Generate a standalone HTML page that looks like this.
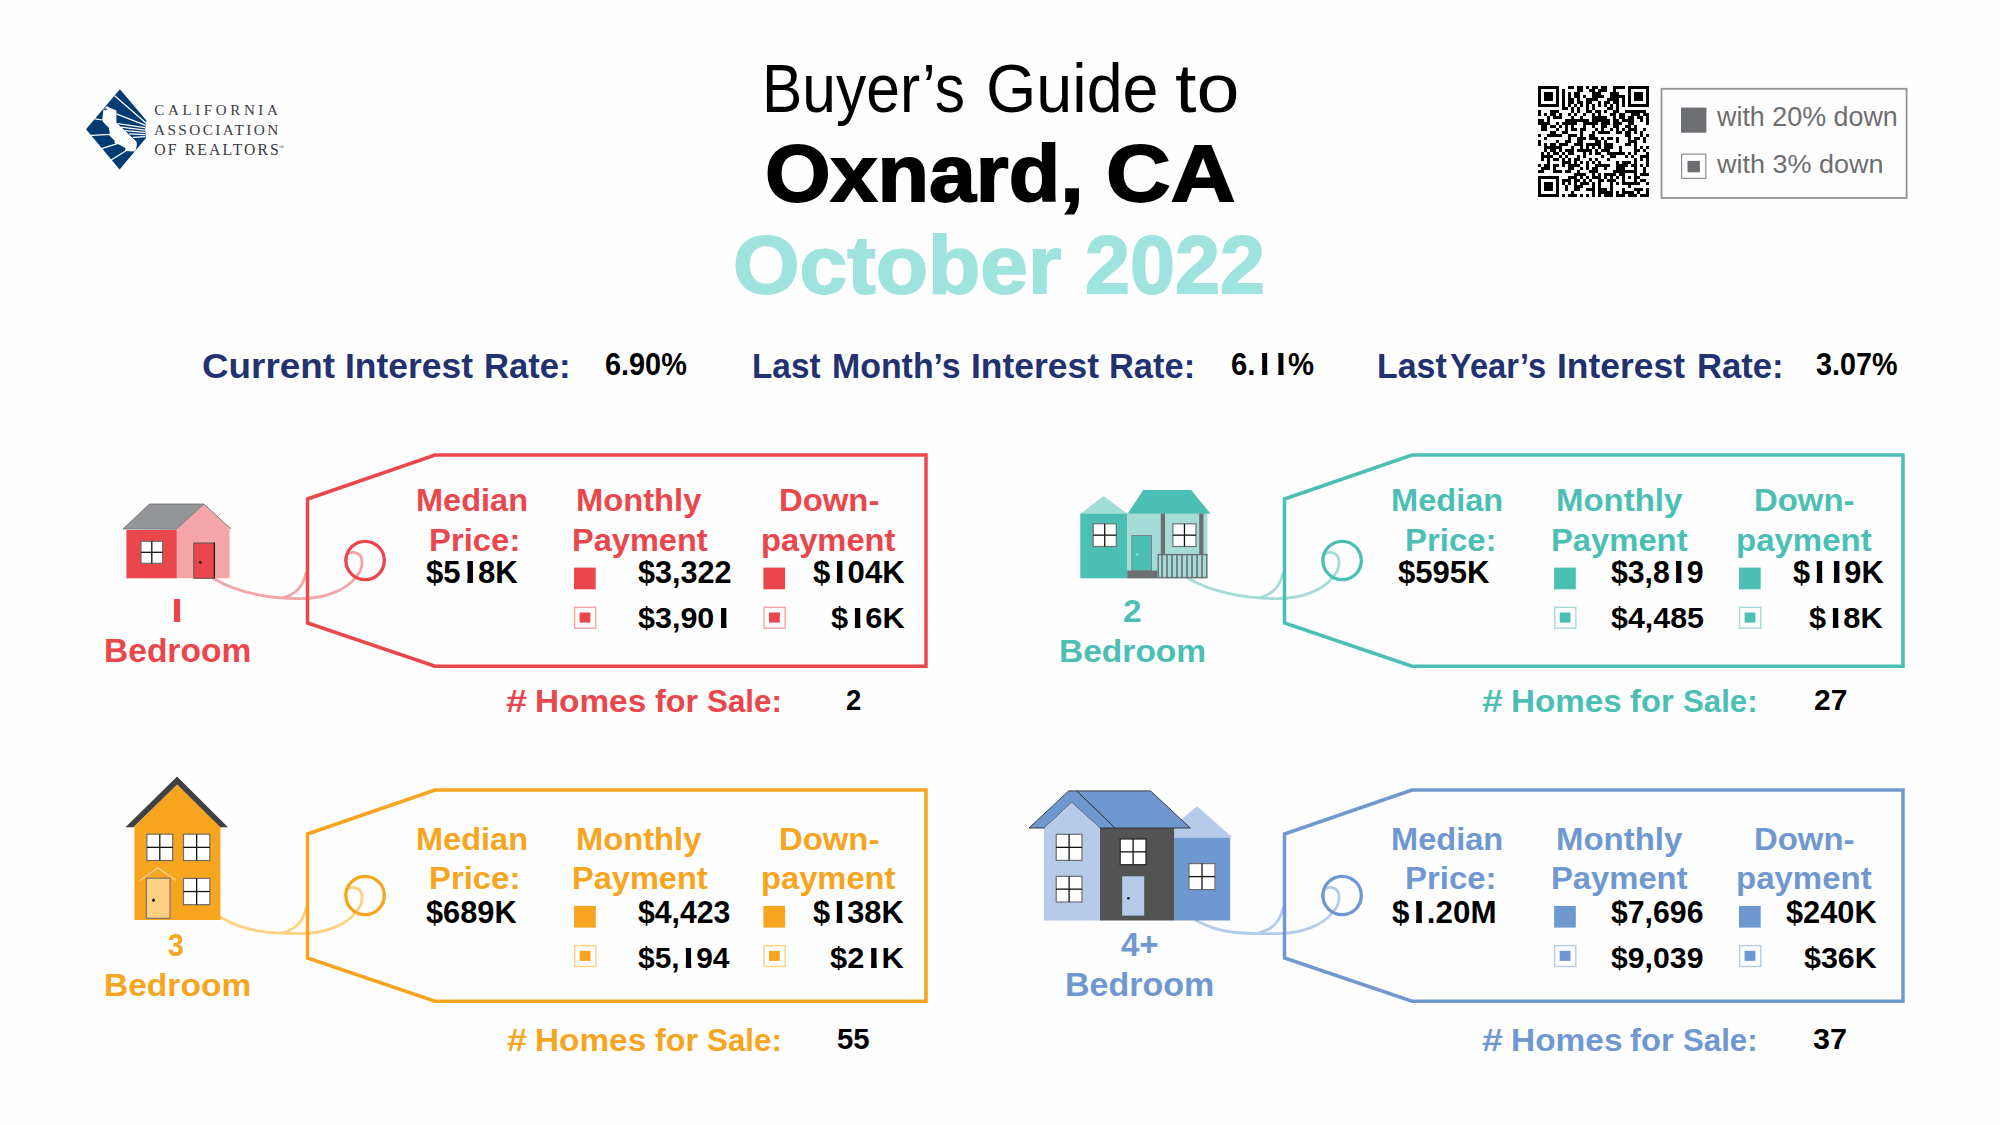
<!DOCTYPE html>
<html><head><meta charset="utf-8"><title>Buyer's Guide to Oxnard, CA - October 2022</title>
<style>
html,body{margin:0;padding:0;background:#fefefe;}
body{width:2000px;height:1125px;position:relative;overflow:hidden;font-family:"Liberation Sans",sans-serif;}
.t{position:absolute;white-space:nowrap;line-height:1;transform-origin:0 0;}
.one{display:inline-block;clip-path:inset(-0.2em 0.186em -0.2em 0.235em);transform:scaleX(1.35);transform-origin:0.3025em 50%;}
svg.bg{position:absolute;left:0;top:0;}
</style></head><body>

<svg class="bg" width="2000" height="1125" viewBox="0 0 2000 1125">
<path d="M119.9,89.2 L146.4,120.6 Q144.2,129.4 146.0,138.0 L119.6,169.6 L86.0,129.2 Z" fill="#003b71"/><polygon points="106.6,106.2 116.4,110.4 116.4,122.4 118.2,124.6 120.2,126.2 128.6,134.2 136.4,141.5 136.9,144.6 136,149.4 134.3,151.4 125.3,151 124.9,150.1 125.7,148.3 118.4,144.2 114.7,143.2 114.7,140.7 109.4,135.6 109.8,133 108.7,127.4 105.9,125.1 102.8,121.6 102.4,118.4 103.4,109.6 104.8,108.2" fill="#fefefe"/><line x1="114.6" y1="95.8" x2="146.2" y2="123.3" stroke="#fefefe" stroke-width="1.25" stroke-linecap="butt"/><line x1="116.4" y1="113.8" x2="145" y2="125.2" stroke="#fefefe" stroke-width="1.25" stroke-linecap="butt"/><line x1="117.6" y1="123.6" x2="145" y2="127.6" stroke="#fefefe" stroke-width="1.25" stroke-linecap="butt"/><line x1="121" y1="127.2" x2="145" y2="130.2" stroke="#fefefe" stroke-width="1.25" stroke-linecap="butt"/><line x1="125" y1="130.6" x2="145" y2="132.4" stroke="#fefefe" stroke-width="1.25" stroke-linecap="butt"/><line x1="129" y1="133.9" x2="145" y2="134.6" stroke="#fefefe" stroke-width="1.25" stroke-linecap="butt"/><line x1="133" y1="137.4" x2="145.4" y2="136.6" stroke="#fefefe" stroke-width="1.25" stroke-linecap="butt"/><line x1="94.6" y1="118.9" x2="103" y2="120" stroke="#fefefe" stroke-width="1.25" stroke-linecap="butt"/><line x1="87.6" y1="135.6" x2="110.2" y2="134.3" stroke="#fefefe" stroke-width="1.25" stroke-linecap="butt"/><line x1="100.6" y1="148.9" x2="117.5" y2="143.6" stroke="#fefefe" stroke-width="1.25" stroke-linecap="butt"/><line x1="110.8" y1="160.3" x2="126.4" y2="150.5" stroke="#fefefe" stroke-width="1.25" stroke-linecap="butt"/><ellipse cx="105.5" cy="109.2" rx="2.0" ry="0.7" fill="#003b71"/>
<path d="M1538.1,86.1h20.98v3h-20.98zM1568.07,86.1h5.99v3h-5.99zM1577.06,86.1h5.99v3h-5.99zM1586.05,86.1h3v3h-3zM1592.05,86.1h5.99v3h-5.99zM1601.04,86.1h5.99v3h-5.99zM1613.02,86.1h11.99v3h-11.99zM1628.01,86.1h20.98v3h-20.98zM1538.1,89.1h3v3h-3zM1556.08,89.1h3v3h-3zM1562.08,89.1h3v3h-3zM1577.06,89.1h5.99v3h-5.99zM1589.05,89.1h5.99v3h-5.99zM1598.04,89.1h8.99v3h-8.99zM1613.02,89.1h3v3h-3zM1628.01,89.1h3v3h-3zM1645.99,89.1h3v3h-3zM1538.1,92.09h3v3h-3zM1544.09,92.09h8.99v3h-8.99zM1556.08,92.09h3v3h-3zM1562.08,92.09h3v3h-3zM1568.07,92.09h3v3h-3zM1574.06,92.09h5.99v3h-5.99zM1592.05,92.09h8.99v3h-8.99zM1610.03,92.09h8.99v3h-8.99zM1628.01,92.09h3v3h-3zM1634,92.09h8.99v3h-8.99zM1645.99,92.09h3v3h-3zM1538.1,95.09h3v3h-3zM1544.09,95.09h8.99v3h-8.99zM1556.08,95.09h3v3h-3zM1562.08,95.09h3v3h-3zM1568.07,95.09h3v3h-3zM1574.06,95.09h5.99v3h-5.99zM1583.05,95.09h3v3h-3zM1592.05,95.09h11.99v3h-11.99zM1610.03,95.09h14.98v3h-14.98zM1628.01,95.09h3v3h-3zM1634,95.09h8.99v3h-8.99zM1645.99,95.09h3v3h-3zM1538.1,98.09h3v3h-3zM1544.09,98.09h8.99v3h-8.99zM1556.08,98.09h3v3h-3zM1562.08,98.09h3v3h-3zM1568.07,98.09h5.99v3h-5.99zM1577.06,98.09h3v3h-3zM1586.05,98.09h11.99v3h-11.99zM1607.03,98.09h11.99v3h-11.99zM1622.02,98.09h3v3h-3zM1628.01,98.09h3v3h-3zM1634,98.09h8.99v3h-8.99zM1645.99,98.09h3v3h-3zM1538.1,101.08h3v3h-3zM1556.08,101.08h3v3h-3zM1562.08,101.08h3v3h-3zM1568.07,101.08h5.99v3h-5.99zM1577.06,101.08h5.99v3h-5.99zM1586.05,101.08h5.99v3h-5.99zM1598.04,101.08h3v3h-3zM1604.03,101.08h5.99v3h-5.99zM1613.02,101.08h5.99v3h-5.99zM1622.02,101.08h3v3h-3zM1628.01,101.08h3v3h-3zM1645.99,101.08h3v3h-3zM1538.1,104.08h20.98v3h-20.98zM1562.08,104.08h3v3h-3zM1568.07,104.08h3v3h-3zM1574.06,104.08h3v3h-3zM1580.06,104.08h3v3h-3zM1586.05,104.08h3v3h-3zM1592.05,104.08h3v3h-3zM1598.04,104.08h3v3h-3zM1604.03,104.08h3v3h-3zM1610.03,104.08h3v3h-3zM1616.02,104.08h3v3h-3zM1622.02,104.08h3v3h-3zM1628.01,104.08h20.98v3h-20.98zM1562.08,107.08h5.99v3h-5.99zM1571.07,107.08h3v3h-3zM1577.06,107.08h3v3h-3zM1586.05,107.08h3v3h-3zM1592.05,107.08h3v3h-3zM1607.03,107.08h5.99v3h-5.99zM1616.02,107.08h3v3h-3zM1538.1,110.08h3v3h-3zM1550.09,110.08h8.99v3h-8.99zM1571.07,110.08h3v3h-3zM1577.06,110.08h3v3h-3zM1586.05,110.08h5.99v3h-5.99zM1595.04,110.08h5.99v3h-5.99zM1604.03,110.08h3v3h-3zM1613.02,110.08h5.99v3h-5.99zM1625.01,110.08h20.98v3h-20.98zM1538.1,113.07h3v3h-3zM1544.09,113.07h3v3h-3zM1550.09,113.07h5.99v3h-5.99zM1559.08,113.07h3v3h-3zM1568.07,113.07h3v3h-3zM1574.06,113.07h3v3h-3zM1583.05,113.07h3v3h-3zM1592.05,113.07h3v3h-3zM1598.04,113.07h3v3h-3zM1610.03,113.07h5.99v3h-5.99zM1619.02,113.07h5.99v3h-5.99zM1631.01,113.07h8.99v3h-8.99zM1642.99,113.07h5.99v3h-5.99zM1547.09,116.07h3v3h-3zM1553.08,116.07h8.99v3h-8.99zM1571.07,116.07h3v3h-3zM1580.06,116.07h3v3h-3zM1592.05,116.07h14.98v3h-14.98zM1613.02,116.07h3v3h-3zM1619.02,116.07h5.99v3h-5.99zM1628.01,116.07h5.99v3h-5.99zM1637,116.07h5.99v3h-5.99zM1645.99,116.07h3v3h-3zM1538.1,119.07h5.99v3h-5.99zM1547.09,119.07h3v3h-3zM1565.07,119.07h23.98v3h-23.98zM1592.05,119.07h17.98v3h-17.98zM1613.02,119.07h5.99v3h-5.99zM1622.02,119.07h11.99v3h-11.99zM1640,119.07h3v3h-3zM1645.99,119.07h3v3h-3zM1538.1,122.06h11.99v3h-11.99zM1556.08,122.06h3v3h-3zM1562.08,122.06h14.98v3h-14.98zM1583.05,122.06h14.98v3h-14.98zM1601.04,122.06h8.99v3h-8.99zM1613.02,122.06h8.99v3h-8.99zM1628.01,122.06h5.99v3h-5.99zM1645.99,122.06h3v3h-3zM1541.1,125.06h5.99v3h-5.99zM1550.09,125.06h5.99v3h-5.99zM1559.08,125.06h3v3h-3zM1565.07,125.06h3v3h-3zM1571.07,125.06h3v3h-3zM1583.05,125.06h3v3h-3zM1592.05,125.06h3v3h-3zM1601.04,125.06h5.99v3h-5.99zM1613.02,125.06h5.99v3h-5.99zM1625.01,125.06h5.99v3h-5.99zM1634,125.06h3v3h-3zM1541.1,128.06h5.99v3h-5.99zM1556.08,128.06h3v3h-3zM1565.07,128.06h3v3h-3zM1571.07,128.06h5.99v3h-5.99zM1580.06,128.06h5.99v3h-5.99zM1595.04,128.06h3v3h-3zM1601.04,128.06h3v3h-3zM1610.03,128.06h3v3h-3zM1616.02,128.06h3v3h-3zM1622.02,128.06h3v3h-3zM1628.01,128.06h8.99v3h-8.99zM1642.99,128.06h3v3h-3zM1550.09,131.06h5.99v3h-5.99zM1562.08,131.06h5.99v3h-5.99zM1580.06,131.06h3v3h-3zM1592.05,131.06h3v3h-3zM1598.04,131.06h11.99v3h-11.99zM1616.02,131.06h5.99v3h-5.99zM1625.01,131.06h5.99v3h-5.99zM1634,131.06h3v3h-3zM1640,131.06h3v3h-3zM1538.1,134.05h3v3h-3zM1547.09,134.05h14.98v3h-14.98zM1568.07,134.05h8.99v3h-8.99zM1580.06,134.05h3v3h-3zM1589.05,134.05h5.99v3h-5.99zM1625.01,134.05h5.99v3h-5.99zM1640,134.05h3v3h-3zM1645.99,134.05h3v3h-3zM1544.09,137.05h3v3h-3zM1568.07,137.05h3v3h-3zM1577.06,137.05h8.99v3h-8.99zM1589.05,137.05h8.99v3h-8.99zM1601.04,137.05h3v3h-3zM1607.03,137.05h5.99v3h-5.99zM1616.02,137.05h3v3h-3zM1628.01,137.05h3v3h-3zM1634,137.05h5.99v3h-5.99zM1642.99,137.05h3v3h-3zM1538.1,140.05h3v3h-3zM1556.08,140.05h3v3h-3zM1565.07,140.05h5.99v3h-5.99zM1577.06,140.05h5.99v3h-5.99zM1595.04,140.05h5.99v3h-5.99zM1604.03,140.05h3v3h-3zM1616.02,140.05h3v3h-3zM1628.01,140.05h8.99v3h-8.99zM1642.99,140.05h3v3h-3zM1538.1,143.04h3v3h-3zM1544.09,143.04h3v3h-3zM1550.09,143.04h5.99v3h-5.99zM1559.08,143.04h8.99v3h-8.99zM1574.06,143.04h8.99v3h-8.99zM1586.05,143.04h14.98v3h-14.98zM1604.03,143.04h8.99v3h-8.99zM1625.01,143.04h5.99v3h-5.99zM1634,143.04h3v3h-3zM1544.09,146.04h17.98v3h-17.98zM1571.07,146.04h3v3h-3zM1580.06,146.04h3v3h-3zM1586.05,146.04h3v3h-3zM1592.05,146.04h3v3h-3zM1598.04,146.04h3v3h-3zM1604.03,146.04h8.99v3h-8.99zM1619.02,146.04h3v3h-3zM1634,146.04h3v3h-3zM1640,146.04h3v3h-3zM1645.99,146.04h3v3h-3zM1544.09,149.04h3v3h-3zM1550.09,149.04h5.99v3h-5.99zM1559.08,149.04h3v3h-3zM1565.07,149.04h8.99v3h-8.99zM1577.06,149.04h14.98v3h-14.98zM1595.04,149.04h3v3h-3zM1601.04,149.04h8.99v3h-8.99zM1619.02,149.04h3v3h-3zM1634,149.04h5.99v3h-5.99zM1642.99,149.04h3v3h-3zM1541.1,152.03h3v3h-3zM1547.09,152.03h3v3h-3zM1553.08,152.03h5.99v3h-5.99zM1562.08,152.03h3v3h-3zM1568.07,152.03h5.99v3h-5.99zM1583.05,152.03h3v3h-3zM1589.05,152.03h3v3h-3zM1595.04,152.03h5.99v3h-5.99zM1607.03,152.03h17.98v3h-17.98zM1628.01,152.03h3v3h-3zM1634,152.03h3v3h-3zM1645.99,152.03h3v3h-3zM1541.1,155.03h11.99v3h-11.99zM1559.08,155.03h3v3h-3zM1565.07,155.03h3v3h-3zM1577.06,155.03h3v3h-3zM1583.05,155.03h3v3h-3zM1601.04,155.03h3v3h-3zM1610.03,155.03h5.99v3h-5.99zM1625.01,155.03h3v3h-3zM1631.01,155.03h3v3h-3zM1640,155.03h8.99v3h-8.99zM1541.1,158.03h3v3h-3zM1547.09,158.03h3v3h-3zM1553.08,158.03h5.99v3h-5.99zM1562.08,158.03h3v3h-3zM1568.07,158.03h3v3h-3zM1574.06,158.03h5.99v3h-5.99zM1589.05,158.03h3v3h-3zM1595.04,158.03h3v3h-3zM1607.03,158.03h3v3h-3zM1634,158.03h3v3h-3zM1640,158.03h3v3h-3zM1645.99,158.03h3v3h-3zM1547.09,161.02h3v3h-3zM1562.08,161.02h8.99v3h-8.99zM1574.06,161.02h3v3h-3zM1580.06,161.02h3v3h-3zM1586.05,161.02h3v3h-3zM1592.05,161.02h3v3h-3zM1598.04,161.02h3v3h-3zM1616.02,161.02h3v3h-3zM1622.02,161.02h8.99v3h-8.99zM1634,161.02h3v3h-3zM1645.99,161.02h3v3h-3zM1538.1,164.02h3v3h-3zM1544.09,164.02h5.99v3h-5.99zM1553.08,164.02h5.99v3h-5.99zM1562.08,164.02h3v3h-3zM1568.07,164.02h11.99v3h-11.99zM1586.05,164.02h3v3h-3zM1595.04,164.02h14.98v3h-14.98zM1616.02,164.02h11.99v3h-11.99zM1631.01,164.02h5.99v3h-5.99zM1640,164.02h3v3h-3zM1645.99,164.02h3v3h-3zM1541.1,167.02h8.99v3h-8.99zM1553.08,167.02h3v3h-3zM1568.07,167.02h5.99v3h-5.99zM1580.06,167.02h3v3h-3zM1586.05,167.02h3v3h-3zM1592.05,167.02h5.99v3h-5.99zM1604.03,167.02h3v3h-3zM1616.02,167.02h8.99v3h-8.99zM1634,167.02h3v3h-3zM1642.99,167.02h3v3h-3zM1538.1,170.02h5.99v3h-5.99zM1553.08,170.02h8.99v3h-8.99zM1565.07,170.02h5.99v3h-5.99zM1577.06,170.02h3v3h-3zM1589.05,170.02h8.99v3h-8.99zM1613.02,170.02h23.98v3h-23.98zM1642.99,170.02h3v3h-3zM1574.06,173.01h11.99v3h-11.99zM1592.05,173.01h3v3h-3zM1598.04,173.01h3v3h-3zM1604.03,173.01h11.99v3h-11.99zM1619.02,173.01h5.99v3h-5.99zM1634,173.01h3v3h-3zM1640,173.01h8.99v3h-8.99zM1538.1,176.01h20.98v3h-20.98zM1568.07,176.01h8.99v3h-8.99zM1580.06,176.01h3v3h-3zM1586.05,176.01h3v3h-3zM1592.05,176.01h8.99v3h-8.99zM1604.03,176.01h3v3h-3zM1610.03,176.01h3v3h-3zM1616.02,176.01h3v3h-3zM1622.02,176.01h3v3h-3zM1628.01,176.01h3v3h-3zM1634,176.01h5.99v3h-5.99zM1538.1,179.01h3v3h-3zM1556.08,179.01h3v3h-3zM1562.08,179.01h8.99v3h-8.99zM1574.06,179.01h5.99v3h-5.99zM1583.05,179.01h3v3h-3zM1589.05,179.01h3v3h-3zM1598.04,179.01h5.99v3h-5.99zM1607.03,179.01h8.99v3h-8.99zM1622.02,179.01h3v3h-3zM1634,179.01h3v3h-3zM1640,179.01h5.99v3h-5.99zM1538.1,182h3v3h-3zM1544.09,182h8.99v3h-8.99zM1556.08,182h3v3h-3zM1562.08,182h3v3h-3zM1568.07,182h3v3h-3zM1574.06,182h3v3h-3zM1580.06,182h8.99v3h-8.99zM1592.05,182h3v3h-3zM1598.04,182h3v3h-3zM1610.03,182h3v3h-3zM1616.02,182h3v3h-3zM1622.02,182h17.98v3h-17.98zM1645.99,182h3v3h-3zM1538.1,185h3v3h-3zM1544.09,185h8.99v3h-8.99zM1556.08,185h3v3h-3zM1565.07,185h3v3h-3zM1574.06,185h8.99v3h-8.99zM1592.05,185h3v3h-3zM1598.04,185h3v3h-3zM1610.03,185h3v3h-3zM1628.01,185h3v3h-3zM1538.1,188h3v3h-3zM1544.09,188h8.99v3h-8.99zM1556.08,188h3v3h-3zM1565.07,188h3v3h-3zM1574.06,188h5.99v3h-5.99zM1586.05,188h8.99v3h-8.99zM1598.04,188h8.99v3h-8.99zM1610.03,188h3v3h-3zM1622.02,188h3v3h-3zM1634,188h8.99v3h-8.99zM1645.99,188h3v3h-3zM1538.1,191h3v3h-3zM1556.08,191h3v3h-3zM1571.07,191h3v3h-3zM1592.05,191h3v3h-3zM1598.04,191h14.98v3h-14.98zM1616.02,191h3v3h-3zM1622.02,191h11.99v3h-11.99zM1637,191h3v3h-3zM1645.99,191h3v3h-3zM1538.1,193.99h20.98v3h-20.98zM1562.08,193.99h3v3h-3zM1568.07,193.99h8.99v3h-8.99zM1580.06,193.99h3v3h-3zM1586.05,193.99h3v3h-3zM1592.05,193.99h3v3h-3zM1598.04,193.99h3v3h-3zM1604.03,193.99h8.99v3h-8.99zM1616.02,193.99h8.99v3h-8.99zM1628.01,193.99h8.99v3h-8.99zM1640,193.99h8.99v3h-8.99z" fill="#000" shape-rendering="crispEdges"/>
<rect x="1661.5" y="88.8" width="245.1" height="109.2" fill="none" stroke="#929497" stroke-width="1.8"/><rect x="1681" y="107.6" width="25.4" height="25.1" fill="#6d6e71"/><rect x="1681.6" y="154.1" width="24.2" height="24.3" fill="none" stroke="#8d8e91" stroke-width="1.2"/><rect x="1687.5" y="160.9" width="12.4" height="11.4" fill="#6d6e71"/>
<path d="M213.5,578.5 C238,593 270,598.6 300,598.6 C326,598.6 346,590 356,577 C364,568 364.5,554.5 355,552.6 C348.5,551.4 344.6,555.5 345.6,561.5" fill="none" stroke="#f4a5a7" stroke-width="2.8" stroke-linecap="round"/><path d="M283,597.6 C296,594.5 303.5,585 306,573" fill="none" stroke="#f4a5a7" stroke-width="2.8" stroke-linecap="round"/>
<polygon points="307.5,499 435,455 926,455 926,666.2 435,666.2 307.5,623" fill="none" stroke="#ea464b" stroke-width="3.5" stroke-linejoin="miter"/><circle cx="365.1" cy="560.5" r="19.2" fill="none" stroke="#ea464b" stroke-width="3.3"/>
<path d="M1188,578.3 C1212.5,592.8 1247,598.6 1277,598.6 C1303,598.6 1323,590 1333,577 C1341,568 1341.5,554.5 1332,552.6 C1325.5,551.4 1321.6,555.5 1322.6,561.5" fill="none" stroke="#a4dcd8" stroke-width="2.8" stroke-linecap="round"/><path d="M1260,597.6 C1273,594.5 1280.5,585 1283,573" fill="none" stroke="#a4dcd8" stroke-width="2.8" stroke-linecap="round"/>
<polygon points="1284.5,499 1412,455 1903,455 1903,666.2 1412,666.2 1284.5,623" fill="none" stroke="#4bbfb3" stroke-width="3.5" stroke-linejoin="miter"/><circle cx="1342.1" cy="560.5" r="19.2" fill="none" stroke="#4bbfb3" stroke-width="3.3"/>
<path d="M220.5,917.3 C245,931.8 270,933.6 300,933.6 C326,933.6 346,925 356,912 C364,903 364.5,889.5 355,887.6 C348.5,886.4 344.6,890.5 345.6,896.5" fill="none" stroke="#fdd181" stroke-width="2.8" stroke-linecap="round"/><path d="M283,932.6 C296,929.5 303.5,920 306,908" fill="none" stroke="#fdd181" stroke-width="2.8" stroke-linecap="round"/>
<polygon points="307.5,834 435,790 926,790 926,1001.2 435,1001.2 307.5,958" fill="none" stroke="#f7a41f" stroke-width="3.5" stroke-linejoin="miter"/><circle cx="365.1" cy="895.5" r="19.2" fill="none" stroke="#f7a41f" stroke-width="3.3"/>
<path d="M1196,920.2 C1220.5,934.7 1247,933.6 1277,933.6 C1303,933.6 1323,925 1333,912 C1341,903 1341.5,889.5 1332,887.6 C1325.5,886.4 1321.6,890.5 1322.6,896.5" fill="none" stroke="#b6cbea" stroke-width="2.8" stroke-linecap="round"/><path d="M1260,932.6 C1273,929.5 1280.5,920 1283,908" fill="none" stroke="#b6cbea" stroke-width="2.8" stroke-linecap="round"/>
<polygon points="1284.5,834 1412,790 1903,790 1903,1001.2 1412,1001.2 1284.5,958" fill="none" stroke="#7098d0" stroke-width="3.5" stroke-linejoin="miter"/><circle cx="1342.1" cy="895.5" r="19.2" fill="none" stroke="#7098d0" stroke-width="3.3"/>
<rect x="574" y="567.6" width="21.7" height="21.7" fill="#ea464b"/><rect x="574.6" y="607.3" width="21.1" height="20.9" fill="none" stroke="#f4a5a7" stroke-width="1.4"/><rect x="579.6" y="612.5" width="10.8" height="10.1" fill="#ea464b"/><rect x="763.4" y="567.6" width="21.7" height="21.7" fill="#ea464b"/><rect x="764" y="607.3" width="21.1" height="20.9" fill="none" stroke="#f4a5a7" stroke-width="1.4"/><rect x="769" y="612.5" width="10.8" height="10.1" fill="#ea464b"/>
<rect x="1554.1" y="567.6" width="21.7" height="21.7" fill="#4bbfb3"/><rect x="1554.7" y="607.3" width="21.1" height="20.9" fill="none" stroke="#a4dcd8" stroke-width="1.4"/><rect x="1559.7" y="612.5" width="10.8" height="10.1" fill="#4bbfb3"/><rect x="1739" y="567.6" width="21.7" height="21.7" fill="#4bbfb3"/><rect x="1739.6" y="607.3" width="21.1" height="20.9" fill="none" stroke="#a4dcd8" stroke-width="1.4"/><rect x="1744.6" y="612.5" width="10.8" height="10.1" fill="#4bbfb3"/>
<rect x="574.1" y="905.9" width="21.7" height="21.7" fill="#f7a41f"/><rect x="574.7" y="945.6" width="21.1" height="20.9" fill="none" stroke="#fdd181" stroke-width="1.4"/><rect x="579.7" y="950.8" width="10.8" height="10.1" fill="#f7a41f"/><rect x="763.4" y="905.9" width="21.7" height="21.7" fill="#f7a41f"/><rect x="764" y="945.6" width="21.1" height="20.9" fill="none" stroke="#fdd181" stroke-width="1.4"/><rect x="769" y="950.8" width="10.8" height="10.1" fill="#f7a41f"/>
<rect x="1554.1" y="905.9" width="21.7" height="21.7" fill="#7098d0"/><rect x="1554.7" y="945.6" width="21.1" height="20.9" fill="none" stroke="#b6cbea" stroke-width="1.4"/><rect x="1559.7" y="950.8" width="10.8" height="10.1" fill="#7098d0"/><rect x="1739" y="905.9" width="21.7" height="21.7" fill="#7098d0"/><rect x="1739.6" y="945.6" width="21.1" height="20.9" fill="none" stroke="#b6cbea" stroke-width="1.4"/><rect x="1744.6" y="950.8" width="10.8" height="10.1" fill="#7098d0"/>
<rect x="126.4" y="530" width="50.8" height="48.3" fill="#ea464b"/><polygon points="176.6,578.3 176.6,529.2 203.8,504 230.6,528.6 229.6,528.6 229.6,578.3" fill="#f4a5a7"/><polygon points="122.9,529 149.5,504 203.8,504 176.4,529.2" fill="#939598" stroke="#6d6e71" stroke-width="0.8" stroke-linejoin="miter"/><line x1="203.8" y1="504" x2="230.8" y2="528.8" stroke="#6d6e71" stroke-width="0.9" stroke-linecap="butt"/><rect x="141" y="541.3" width="21.6" height="22" fill="#fff" stroke="#6d6e71" stroke-width="1.2"/><line x1="151.8" y1="541.3" x2="151.8" y2="563.3" stroke="#111" stroke-width="1.3" stroke-linecap="butt"/><line x1="141" y1="552.3" x2="162.6" y2="552.3" stroke="#111" stroke-width="1.3" stroke-linecap="butt"/><rect x="193.8" y="543" width="20.6" height="35.3" fill="#ea464b" stroke="#555" stroke-width="1"/><line x1="214.4" y1="542.5" x2="214.4" y2="578.3" stroke="#111" stroke-width="1.1" stroke-linecap="butt"/><circle cx="200.4" cy="562.2" r="1.3" fill="#111"/>
<polygon points="1080.3,513.8 1103.7,495.9 1127.4,513.8" fill="#a4dcd8"/><rect x="1080.3" y="513.6" width="47.1" height="64.7" fill="#4bbfb3"/><rect x="1127.2" y="513.6" width="80.2" height="64.7" fill="#a4dcd8"/><polygon points="1127.6,513.8 1143.2,490.1 1191.2,490.1 1210.6,513.8" fill="#4bbfb3"/><rect x="1093.2" y="523.8" width="23.1" height="22.7" fill="#fff" stroke="#6d6e71" stroke-width="1.2"/><line x1="1104.75" y1="523.8" x2="1104.75" y2="546.5" stroke="#111" stroke-width="1.3" stroke-linecap="butt"/><line x1="1093.2" y1="535.15" x2="1116.3" y2="535.15" stroke="#111" stroke-width="1.3" stroke-linecap="butt"/><rect x="1172.9" y="523.8" width="23.1" height="22.7" fill="#fff" stroke="#6d6e71" stroke-width="1.2"/><line x1="1184.45" y1="523.8" x2="1184.45" y2="546.5" stroke="#111" stroke-width="1.3" stroke-linecap="butt"/><line x1="1172.9" y1="535.15" x2="1196" y2="535.15" stroke="#111" stroke-width="1.3" stroke-linecap="butt"/><rect x="1127.2" y="570.6" width="30.1" height="7.7" fill="#6d6e71"/><rect x="1131.8" y="535.6" width="19.7" height="35" fill="#4bbfb3" stroke="#7a7b7e" stroke-width="0.9"/><circle cx="1137.2" cy="554.5" r="1.2" fill="#a4dcd8"/><rect x="1160.8" y="513.6" width="4.2" height="41.4" fill="#6d6e71"/><rect x="1199.2" y="513.6" width="4.2" height="41.4" fill="#6d6e71"/><rect x="1158.2" y="554.6" width="48.6" height="23" fill="none" stroke="#6d6e71" stroke-width="1.4"/><line x1="1162" y1="555" x2="1162" y2="577.6" stroke="#6d6e71" stroke-width="1.6" stroke-linecap="butt"/><line x1="1167" y1="555" x2="1167" y2="577.6" stroke="#6d6e71" stroke-width="1.6" stroke-linecap="butt"/><line x1="1172" y1="555" x2="1172" y2="577.6" stroke="#6d6e71" stroke-width="1.6" stroke-linecap="butt"/><line x1="1177" y1="555" x2="1177" y2="577.6" stroke="#6d6e71" stroke-width="1.6" stroke-linecap="butt"/><line x1="1182" y1="555" x2="1182" y2="577.6" stroke="#6d6e71" stroke-width="1.6" stroke-linecap="butt"/><line x1="1187" y1="555" x2="1187" y2="577.6" stroke="#6d6e71" stroke-width="1.6" stroke-linecap="butt"/><line x1="1192" y1="555" x2="1192" y2="577.6" stroke="#6d6e71" stroke-width="1.6" stroke-linecap="butt"/><line x1="1197" y1="555" x2="1197" y2="577.6" stroke="#6d6e71" stroke-width="1.6" stroke-linecap="butt"/><line x1="1202" y1="555" x2="1202" y2="577.6" stroke="#6d6e71" stroke-width="1.6" stroke-linecap="butt"/>
<polygon points="134.4,920 134.4,826.5 177.1,784.5 220.4,826.5 220.4,920" fill="#f7a41f"/><polygon points="125.4,827.2 177.1,776.5 228,827.2 220.4,827.2 177.1,784.5 133.4,827.2" fill="#414042"/><rect x="146.9" y="834.2" width="25.8" height="26.3" fill="#fff" stroke="#6d6e71" stroke-width="1.2"/><line x1="159.8" y1="834.2" x2="159.8" y2="860.5" stroke="#111" stroke-width="1.3" stroke-linecap="butt"/><line x1="146.9" y1="847.35" x2="172.7" y2="847.35" stroke="#111" stroke-width="1.3" stroke-linecap="butt"/><rect x="183.5" y="834.2" width="26.3" height="26.3" fill="#fff" stroke="#6d6e71" stroke-width="1.2"/><line x1="196.65" y1="834.2" x2="196.65" y2="860.5" stroke="#111" stroke-width="1.3" stroke-linecap="butt"/><line x1="183.5" y1="847.35" x2="209.8" y2="847.35" stroke="#111" stroke-width="1.3" stroke-linecap="butt"/><rect x="183.5" y="878.4" width="26.3" height="26.3" fill="#fff" stroke="#6d6e71" stroke-width="1.2"/><line x1="196.65" y1="878.4" x2="196.65" y2="904.7" stroke="#111" stroke-width="1.3" stroke-linecap="butt"/><line x1="183.5" y1="891.55" x2="209.8" y2="891.55" stroke="#111" stroke-width="1.3" stroke-linecap="butt"/><polyline points="140,880.5 157.8,868 176.2,880.5" fill="none" stroke="#fdd181" stroke-width="1.5"/><rect x="146.3" y="878.2" width="23.7" height="40.1" fill="#fdd181" stroke="#6d6e71" stroke-width="1.1"/><path d="M153.5,898.2 L155.3,900.2 L153.5,902.2 L151.7,900.2 Z" fill="#111"/>
<polygon points="1160,837.6 1197.1,806.3 1232.4,837.6" fill="#b6cbea"/><rect x="1174.1" y="837.6" width="56.1" height="82.9" fill="#7098d0"/><rect x="1189" y="863.6" width="26" height="26" fill="#fff" stroke="#6d6e71" stroke-width="1.2"/><line x1="1202" y1="863.6" x2="1202" y2="889.6" stroke="#111" stroke-width="1.3" stroke-linecap="butt"/><line x1="1189" y1="876.6" x2="1215" y2="876.6" stroke="#111" stroke-width="1.3" stroke-linecap="butt"/><rect x="1043.9" y="826" width="56.3" height="94.5" fill="#b6cbea"/><rect x="1100" y="827" width="74.1" height="93.5" fill="#535354"/><polygon points="1076.6,790.9 1150.6,790.9 1190.3,828 1115,828" fill="#7098d0" stroke="#2b2b2d" stroke-width="0.9" stroke-linejoin="miter"/><polygon points="1029,828 1068.7,790.9 1076.6,790.9 1115,828 1100,828 1071.6,802.4 1044.5,828" fill="#7098d0" stroke="#2b2b2d" stroke-width="0.9" stroke-linejoin="miter"/><polygon points="1044.5,828 1071.6,802.4 1100,828" fill="#b6cbea"/><rect x="1056.2" y="834.3" width="25.8" height="26.1" fill="#fff" stroke="#6d6e71" stroke-width="1.2"/><line x1="1069.1" y1="834.3" x2="1069.1" y2="860.4" stroke="#111" stroke-width="1.3" stroke-linecap="butt"/><line x1="1056.2" y1="847.35" x2="1082" y2="847.35" stroke="#111" stroke-width="1.3" stroke-linecap="butt"/><rect x="1056.2" y="876.3" width="25.8" height="25.7" fill="#fff" stroke="#6d6e71" stroke-width="1.2"/><line x1="1069.1" y1="876.3" x2="1069.1" y2="902" stroke="#111" stroke-width="1.3" stroke-linecap="butt"/><line x1="1056.2" y1="889.15" x2="1082" y2="889.15" stroke="#111" stroke-width="1.3" stroke-linecap="butt"/><rect x="1120.2" y="839" width="25.8" height="25.7" fill="#fff" stroke="#222" stroke-width="1.2"/><line x1="1133.1" y1="839" x2="1133.1" y2="864.7" stroke="#111" stroke-width="1.3" stroke-linecap="butt"/><line x1="1120.2" y1="851.85" x2="1146" y2="851.85" stroke="#111" stroke-width="1.3" stroke-linecap="butt"/><rect x="1122.2" y="876.3" width="22" height="39.3" fill="#b6cbea"/><circle cx="1128.4" cy="898.2" r="1.3" fill="#111"/>
</svg>
<div class="t" id="h1a" style="left:762.40px;top:55.40px;font:400 68.84px/1 'Liberation Sans', sans-serif;color:#000;transform:scaleX(0.8790);">Buyer’s</div>
<div class="t" id="h1b" style="left:985.81px;top:55.40px;font:400 68.84px/1 'Liberation Sans', sans-serif;color:#000;transform:scaleX(0.9397);">Guide</div>
<div class="t" id="h1c" style="left:1175.08px;top:55.40px;font:400 68.84px/1 'Liberation Sans', sans-serif;color:#000;transform:scaleX(1.1221);">to</div>
<div class="t" id="h2a" style="left:764.91px;top:134.10px;font:700 79.86px/1 'Liberation Sans', sans-serif;color:#000;-webkit-text-stroke:1.80px #000;transform:scaleX(1.0558);">Oxnard,</div>
<div class="t" id="h2b" style="left:1105.70px;top:134.10px;font:700 79.86px/1 'Liberation Sans', sans-serif;color:#000;-webkit-text-stroke:1.80px #000;transform:scaleX(1.1207);">CA</div>
<div class="t" id="h3a" style="left:732.57px;top:225.31px;font:700 80.87px/1 'Liberation Sans', sans-serif;color:#9fe3de;-webkit-text-stroke:1.80px #9fe3de;transform:scaleX(1.0589);">October</div>
<div class="t" id="h3b" style="left:1085.49px;top:225.31px;font:700 80.87px/1 'Liberation Sans', sans-serif;color:#9fe3de;-webkit-text-stroke:1.80px #9fe3de;transform:scaleX(1.0002);">2022</div>
<div class="t" id="lg1" style="left:154.36px;top:102.90px;font:400 14.96px/1 'Liberation Serif', serif;color:#3a3a3c;letter-spacing:3.651px;">CALIFORNIA</div>
<div class="t" id="lg2" style="left:154.01px;top:121.61px;font:400 15.27px/1 'Liberation Serif', serif;color:#3a3a3c;letter-spacing:2.410px;">ASSOCIATION</div>
<div class="t" id="lg3" style="left:154.33px;top:142.20px;font:400 15.73px/1 'Liberation Serif', serif;color:#3a3a3c;letter-spacing:2.102px;">OF REALTORS</div>
<div class="t" id="lg4" style="left:278.89px;top:145.00px;font:400 5.11px/1 'Liberation Serif', serif;color:#3a3a3c;transform:scaleX(1.3472);">®</div>
<div class="t" id="lgd1" style="left:1717.02px;top:103.51px;font:400 26.90px/1 'Liberation Sans', sans-serif;color:#6d6e71;transform:scaleX(0.9994);">with 20% down</div>
<div class="t" id="lgd2" style="left:1717.02px;top:150.61px;font:400 26.34px/1 'Liberation Sans', sans-serif;color:#6d6e71;transform:scaleX(1.0257);">with 3% down</div>
<div class="t" id="ir1a" style="left:202.49px;top:348.41px;font:700 35.36px/1 'Liberation Sans', sans-serif;color:#223170;transform:scaleX(1.0421);">Current</div>
<div class="t" id="ir1b" style="left:345.32px;top:348.41px;font:700 35.36px/1 'Liberation Sans', sans-serif;color:#223170;transform:scaleX(1.0016);">Interest</div>
<div class="t" id="ir1c" style="left:484.37px;top:348.41px;font:700 35.36px/1 'Liberation Sans', sans-serif;color:#223170;transform:scaleX(0.9802);">Rate:</div>
<div class="t" id="iv1" style="left:604.99px;top:349.01px;font:700 30.57px/1 'Liberation Sans', sans-serif;color:#000;transform:scaleX(0.9439);">6.90%</div>
<div class="t" id="ir2a" style="left:752.07px;top:348.41px;font:700 35.36px/1 'Liberation Sans', sans-serif;color:#223170;transform:scaleX(0.9423);">Last</div>
<div class="t" id="ir2b" style="left:831.80px;top:348.41px;font:700 35.36px/1 'Liberation Sans', sans-serif;color:#223170;transform:scaleX(0.9580);">Month’s</div>
<div class="t" id="ir2c" style="left:970.70px;top:348.41px;font:700 35.36px/1 'Liberation Sans', sans-serif;color:#223170;transform:scaleX(1.0016);">Interest</div>
<div class="t" id="ir2d" style="left:1109.38px;top:348.41px;font:700 35.36px/1 'Liberation Sans', sans-serif;color:#223170;transform:scaleX(0.9740);">Rate:</div>
<div class="t" id="iv2" style="left:1230.90px;top:349.01px;font:700 30.57px/1 'Liberation Sans', sans-serif;color:#000;transform:scaleX(0.9559);">6.<span class="one">1</span><span class="one">1</span>%</div>
<div class="t" id="ir3a" style="left:1376.80px;top:348.41px;font:700 35.36px/1 'Liberation Sans', sans-serif;color:#223170;transform:scaleX(0.9585);">Last</div>
<div class="t" id="ir3b" style="left:1450.45px;top:348.41px;font:700 35.36px/1 'Liberation Sans', sans-serif;color:#223170;transform:scaleX(0.9214);">Year’s</div>
<div class="t" id="ir3c" style="left:1556.70px;top:348.41px;font:700 35.36px/1 'Liberation Sans', sans-serif;color:#223170;transform:scaleX(1.0016);">Interest</div>
<div class="t" id="ir3d" style="left:1696.65px;top:348.41px;font:700 35.36px/1 'Liberation Sans', sans-serif;color:#223170;transform:scaleX(0.9802);">Rate:</div>
<div class="t" id="iv3" style="left:1816.28px;top:349.01px;font:700 30.57px/1 'Liberation Sans', sans-serif;color:#000;transform:scaleX(0.9396);">3.07%</div>
<div class="t" id="amd" style="left:415.91px;top:485.00px;font:700 31.45px/1 'Liberation Sans', sans-serif;color:#ea464b;transform:scaleX(1.0346);">Median</div>
<div class="t" id="apr" style="left:428.84px;top:525.50px;font:700 30.72px/1 'Liberation Sans', sans-serif;color:#ea464b;transform:scaleX(1.0698);">Price:</div>
<div class="t" id="amo" style="left:575.91px;top:485.00px;font:700 31.45px/1 'Liberation Sans', sans-serif;color:#ea464b;transform:scaleX(1.0406);">Monthly</div>
<div class="t" id="apa" style="left:571.79px;top:525.50px;font:700 30.72px/1 'Liberation Sans', sans-serif;color:#ea464b;transform:scaleX(1.0589);">Payment</div>
<div class="t" id="adn" style="left:778.74px;top:485.00px;font:700 31.45px/1 'Liberation Sans', sans-serif;color:#ea464b;transform:scaleX(1.0454);">Down-</div>
<div class="t" id="adp" style="left:760.85px;top:525.50px;font:700 30.72px/1 'Liberation Sans', sans-serif;color:#ea464b;transform:scaleX(1.0643);">payment</div>
<div class="t" id="av0" style="left:425.59px;top:556.91px;font:700 30.43px/1 'Liberation Sans', sans-serif;color:#000;transform:scaleX(1.0228);">$5<span class="one">1</span>8K</div>
<div class="t" id="av1" style="left:637.66px;top:556.91px;font:700 30.43px/1 'Liberation Sans', sans-serif;color:#000;transform:scaleX(1.0058);">$3,322</div>
<div class="t" id="av2" style="left:637.66px;top:602.81px;font:700 30.29px/1 'Liberation Sans', sans-serif;color:#000;transform:scaleX(1.0072);">$3,90<span class="one">1</span></div>
<div class="t" id="av3" style="left:812.71px;top:556.91px;font:700 30.43px/1 'Liberation Sans', sans-serif;color:#000;transform:scaleX(1.0223);">$<span class="one">1</span>04K</div>
<div class="t" id="av4" style="left:830.56px;top:602.81px;font:700 30.29px/1 'Liberation Sans', sans-serif;color:#000;transform:scaleX(1.0179);">$<span class="one">1</span>6K</div>
<div class="t" id="abn" style="left:162.71px;top:594.91px;font:700 32.86px/1 'Liberation Sans', sans-serif;color:#ea464b;clip-path:inset(0 6.11px 0 7.72px);transform:scaleX(1.4109)">1</div>
<div class="t" id="abd" style="left:103.74px;top:634.41px;font:700 33.77px/1 'Liberation Sans', sans-serif;color:#ea464b;transform:scaleX(0.9935);">Bedroom</div>
<div class="t" id="ahs0" style="left:505.78px;top:686.00px;font:700 31.88px/1 'Liberation Sans', sans-serif;color:#ea464b;transform:scaleX(1.1802);">#</div>
<div class="t" id="ahs1" style="left:534.80px;top:686.00px;font:700 31.88px/1 'Liberation Sans', sans-serif;color:#ea464b;transform:scaleX(1.0462);">Homes</div>
<div class="t" id="ahs2" style="left:655.48px;top:686.00px;font:700 31.88px/1 'Liberation Sans', sans-serif;color:#ea464b;transform:scaleX(1.0132);">for</div>
<div class="t" id="ahs3" style="left:707.33px;top:686.00px;font:700 31.88px/1 'Liberation Sans', sans-serif;color:#ea464b;transform:scaleX(0.9829);">Sale:</div>
<div class="t" id="ahn" style="left:846.02px;top:685.82px;font:700 29.14px/1 'Liberation Sans', sans-serif;color:#000;transform:scaleX(0.9425);">2</div>
<div class="t" id="bmd" style="left:1390.92px;top:485.00px;font:700 31.45px/1 'Liberation Sans', sans-serif;color:#4bbfb3;transform:scaleX(1.0358);">Median</div>
<div class="t" id="bpr" style="left:1404.76px;top:525.50px;font:700 30.72px/1 'Liberation Sans', sans-serif;color:#4bbfb3;transform:scaleX(1.0707);">Price:</div>
<div class="t" id="bmo" style="left:1555.76px;top:485.00px;font:700 31.45px/1 'Liberation Sans', sans-serif;color:#4bbfb3;transform:scaleX(1.0486);">Monthly</div>
<div class="t" id="bpa" style="left:1550.83px;top:525.50px;font:700 30.72px/1 'Liberation Sans', sans-serif;color:#4bbfb3;transform:scaleX(1.0663);">Payment</div>
<div class="t" id="bdn" style="left:1753.80px;top:485.00px;font:700 31.45px/1 'Liberation Sans', sans-serif;color:#4bbfb3;transform:scaleX(1.0463);">Down-</div>
<div class="t" id="bdp" style="left:1735.79px;top:525.50px;font:700 30.72px/1 'Liberation Sans', sans-serif;color:#4bbfb3;transform:scaleX(1.0741);">payment</div>
<div class="t" id="bv0" style="left:1397.73px;top:556.91px;font:700 30.43px/1 'Liberation Sans', sans-serif;color:#000;transform:scaleX(1.0213);">$595K</div>
<div class="t" id="bv1" style="left:1610.71px;top:556.91px;font:700 30.43px/1 'Liberation Sans', sans-serif;color:#000;transform:scaleX(0.9934);">$3,8<span class="one">1</span>9</div>
<div class="t" id="bv2" style="left:1610.70px;top:602.81px;font:700 30.29px/1 'Liberation Sans', sans-serif;color:#000;transform:scaleX(1.0036);">$4,485</div>
<div class="t" id="bv3" style="left:1792.62px;top:556.91px;font:700 30.43px/1 'Liberation Sans', sans-serif;color:#000;transform:scaleX(1.0113);">$<span class="one">1</span><span class="one">1</span>9K</div>
<div class="t" id="bv4" style="left:1808.70px;top:602.81px;font:700 30.29px/1 'Liberation Sans', sans-serif;color:#000;transform:scaleX(1.0176);">$<span class="one">1</span>8K</div>
<div class="t" id="bbn" style="left:1122.83px;top:595.81px;font:700 31.71px/1 'Liberation Sans', sans-serif;color:#4bbfb3;transform:scaleX(1.0511);">2</div>
<div class="t" id="bbd" style="left:1058.82px;top:635.90px;font:700 31.74px/1 'Liberation Sans', sans-serif;color:#4bbfb3;transform:scaleX(1.0564);">Bedroom</div>
<div class="t" id="bhs0" style="left:1482.02px;top:686.00px;font:700 31.88px/1 'Liberation Sans', sans-serif;color:#4bbfb3;transform:scaleX(1.1745);">#</div>
<div class="t" id="bhs1" style="left:1510.91px;top:686.00px;font:700 31.88px/1 'Liberation Sans', sans-serif;color:#4bbfb3;transform:scaleX(1.0411);">Homes</div>
<div class="t" id="bhs2" style="left:1630.19px;top:686.00px;font:700 31.88px/1 'Liberation Sans', sans-serif;color:#4bbfb3;transform:scaleX(1.0274);">for</div>
<div class="t" id="bhs3" style="left:1683.40px;top:686.00px;font:700 31.88px/1 'Liberation Sans', sans-serif;color:#4bbfb3;transform:scaleX(0.9782);">Sale:</div>
<div class="t" id="bhn" style="left:1813.99px;top:685.82px;font:700 29.14px/1 'Liberation Sans', sans-serif;color:#000;transform:scaleX(1.0299);">27</div>
<div class="t" id="cmd" style="left:415.91px;top:823.81px;font:700 31.45px/1 'Liberation Sans', sans-serif;color:#f7a41f;transform:scaleX(1.0346);">Median</div>
<div class="t" id="cpr" style="left:428.84px;top:864.31px;font:700 30.72px/1 'Liberation Sans', sans-serif;color:#f7a41f;transform:scaleX(1.0698);">Price:</div>
<div class="t" id="cmo" style="left:575.91px;top:823.81px;font:700 31.45px/1 'Liberation Sans', sans-serif;color:#f7a41f;transform:scaleX(1.0406);">Monthly</div>
<div class="t" id="cpa" style="left:571.79px;top:864.31px;font:700 30.72px/1 'Liberation Sans', sans-serif;color:#f7a41f;transform:scaleX(1.0589);">Payment</div>
<div class="t" id="cdn" style="left:778.74px;top:823.81px;font:700 31.45px/1 'Liberation Sans', sans-serif;color:#f7a41f;transform:scaleX(1.0454);">Down-</div>
<div class="t" id="cdp" style="left:760.85px;top:864.31px;font:700 30.72px/1 'Liberation Sans', sans-serif;color:#f7a41f;transform:scaleX(1.0643);">payment</div>
<div class="t" id="cv0" style="left:425.64px;top:897.31px;font:700 30.43px/1 'Liberation Sans', sans-serif;color:#000;transform:scaleX(1.0104);">$689K</div>
<div class="t" id="cv1" style="left:637.65px;top:897.31px;font:700 30.43px/1 'Liberation Sans', sans-serif;color:#000;transform:scaleX(0.9928);">$4,423</div>
<div class="t" id="cv2" style="left:637.65px;top:943.20px;font:700 30.29px/1 'Liberation Sans', sans-serif;color:#000;transform:scaleX(0.9877);">$5,<span class="one">1</span>94</div>
<div class="t" id="cv3" style="left:812.72px;top:897.31px;font:700 30.43px/1 'Liberation Sans', sans-serif;color:#000;transform:scaleX(1.0108);">$<span class="one">1</span>38K</div>
<div class="t" id="cv4" style="left:829.66px;top:943.20px;font:700 30.29px/1 'Liberation Sans', sans-serif;color:#000;transform:scaleX(1.0176);">$2<span class="one">1</span>K</div>
<div class="t" id="cbn" style="left:168.41px;top:929.60px;font:700 31.86px/1 'Liberation Sans', sans-serif;color:#f7a41f;transform:scaleX(0.8888);">3</div>
<div class="t" id="cbd" style="left:103.82px;top:969.00px;font:700 32.17px/1 'Liberation Sans', sans-serif;color:#f7a41f;transform:scaleX(1.0430);">Bedroom</div>
<div class="t" id="chs0" style="left:506.60px;top:1025.00px;font:700 31.88px/1 'Liberation Sans', sans-serif;color:#f7a41f;transform:scaleX(1.1327);">#</div>
<div class="t" id="chs1" style="left:534.80px;top:1025.00px;font:700 31.88px/1 'Liberation Sans', sans-serif;color:#f7a41f;transform:scaleX(1.0462);">Homes</div>
<div class="t" id="chs2" style="left:655.48px;top:1025.00px;font:700 31.88px/1 'Liberation Sans', sans-serif;color:#f7a41f;transform:scaleX(1.0132);">for</div>
<div class="t" id="chs3" style="left:707.33px;top:1025.00px;font:700 31.88px/1 'Liberation Sans', sans-serif;color:#f7a41f;transform:scaleX(0.9829);">Sale:</div>
<div class="t" id="chn" style="left:837.06px;top:1024.82px;font:700 29.14px/1 'Liberation Sans', sans-serif;color:#000;transform:scaleX(1.0078);">55</div>
<div class="t" id="dmd" style="left:1390.92px;top:823.81px;font:700 31.45px/1 'Liberation Sans', sans-serif;color:#7098d0;transform:scaleX(1.0358);">Median</div>
<div class="t" id="dpr" style="left:1404.76px;top:864.31px;font:700 30.72px/1 'Liberation Sans', sans-serif;color:#7098d0;transform:scaleX(1.0707);">Price:</div>
<div class="t" id="dmo" style="left:1555.76px;top:823.81px;font:700 31.45px/1 'Liberation Sans', sans-serif;color:#7098d0;transform:scaleX(1.0486);">Monthly</div>
<div class="t" id="dpa" style="left:1550.83px;top:864.31px;font:700 30.72px/1 'Liberation Sans', sans-serif;color:#7098d0;transform:scaleX(1.0663);">Payment</div>
<div class="t" id="ddn" style="left:1753.80px;top:823.81px;font:700 31.45px/1 'Liberation Sans', sans-serif;color:#7098d0;transform:scaleX(1.0463);">Down-</div>
<div class="t" id="ddp" style="left:1735.79px;top:864.31px;font:700 30.72px/1 'Liberation Sans', sans-serif;color:#7098d0;transform:scaleX(1.0741);">payment</div>
<div class="t" id="dv0" style="left:1391.67px;top:897.31px;font:700 30.43px/1 'Liberation Sans', sans-serif;color:#000;transform:scaleX(1.0295);">$<span class="one">1</span>.20M</div>
<div class="t" id="dv1" style="left:1610.71px;top:897.31px;font:700 30.43px/1 'Liberation Sans', sans-serif;color:#000;transform:scaleX(0.9934);">$7,696</div>
<div class="t" id="dv2" style="left:1610.71px;top:943.20px;font:700 30.29px/1 'Liberation Sans', sans-serif;color:#000;transform:scaleX(0.9981);">$9,039</div>
<div class="t" id="dv3" style="left:1785.68px;top:897.31px;font:700 30.43px/1 'Liberation Sans', sans-serif;color:#000;transform:scaleX(1.0104);">$240K</div>
<div class="t" id="dv4" style="left:1803.64px;top:943.20px;font:700 30.29px/1 'Liberation Sans', sans-serif;color:#000;transform:scaleX(1.0026);">$36K</div>
<div class="t" id="dbn" style="left:1120.62px;top:927.81px;font:700 33.71px/1 'Liberation Sans', sans-serif;color:#7098d0;transform:scaleX(0.9803);">4+</div>
<div class="t" id="dbd" style="left:1064.69px;top:967.81px;font:700 33.48px/1 'Liberation Sans', sans-serif;color:#7098d0;transform:scaleX(1.0154);">Bedroom</div>
<div class="t" id="dhs0" style="left:1482.02px;top:1025.00px;font:700 31.88px/1 'Liberation Sans', sans-serif;color:#7098d0;transform:scaleX(1.1745);">#</div>
<div class="t" id="dhs1" style="left:1510.89px;top:1025.00px;font:700 31.88px/1 'Liberation Sans', sans-serif;color:#7098d0;transform:scaleX(1.0489);">Homes</div>
<div class="t" id="dhs2" style="left:1630.19px;top:1025.00px;font:700 31.88px/1 'Liberation Sans', sans-serif;color:#7098d0;transform:scaleX(1.0274);">for</div>
<div class="t" id="dhs3" style="left:1683.40px;top:1025.00px;font:700 31.88px/1 'Liberation Sans', sans-serif;color:#7098d0;transform:scaleX(0.9782);">Sale:</div>
<div class="t" id="dhn" style="left:1813.36px;top:1024.82px;font:700 29.14px/1 'Liberation Sans', sans-serif;color:#000;transform:scaleX(1.0498);">37</div>

</body></html>
